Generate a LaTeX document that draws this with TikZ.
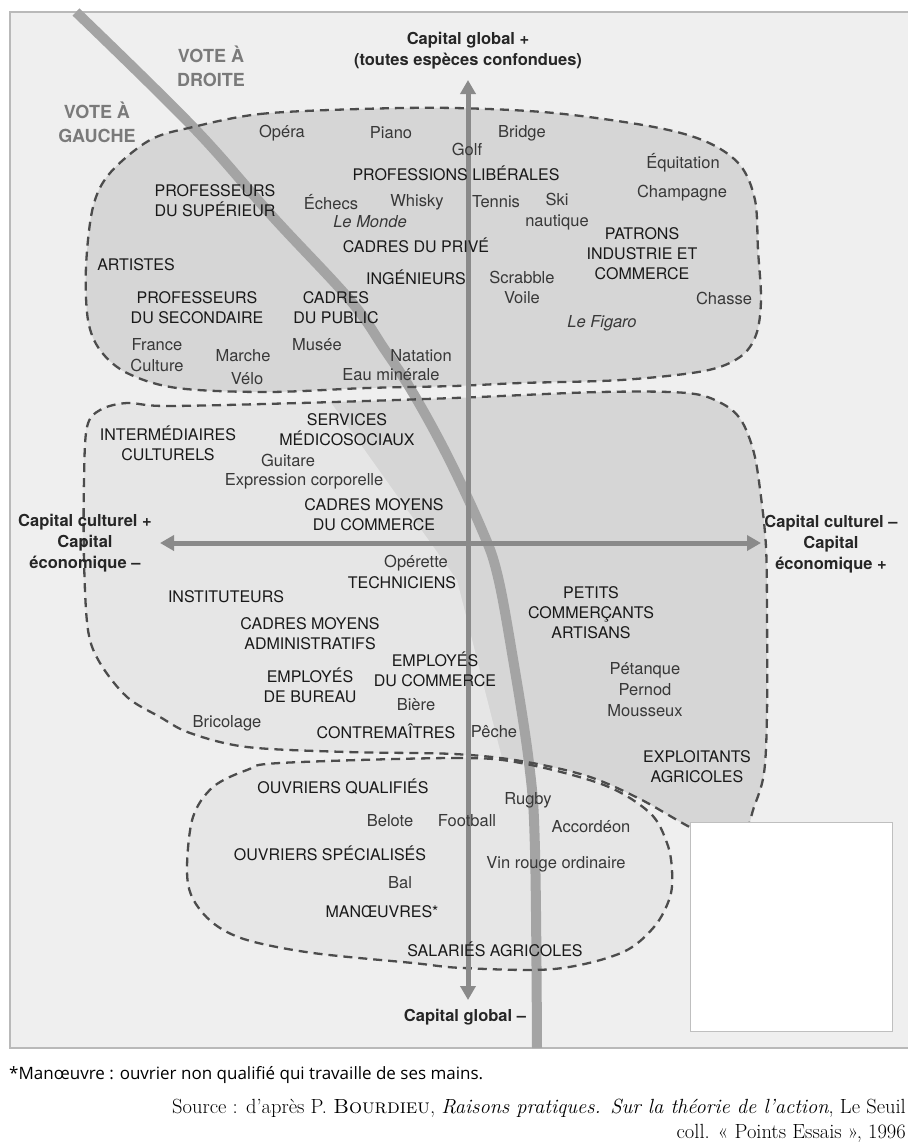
\documentclass[tikz,border=0pt]{standalone}
\usepackage{fontspec}
\newfontfamily\helv{TeX Gyre Heros}
\newfontfamily\notefont{Open Sans}
\usetikzlibrary{arrows.meta}
\definecolor{panelgray}{HTML}{EFEFEF}
\definecolor{blobgray}{HTML}{D6D6D6}
\definecolor{blobpale}{HTML}{E6E6E6}
\definecolor{dashgray}{HTML}{4C4C4C}
\definecolor{axisgray}{HTML}{8A8A8A}
\definecolor{bandgray}{HTML}{A4A4A4}
\definecolor{votegray}{HTML}{7A7A7A}
\tikzset{
	group_label/.style={
		font=\helv\fontsize{16}{20}\selectfont, text=black!90,
		align=center, inner sep=0pt
	},
	practice_label/.style={
		font=\helv\fontsize{16.5}{21}\selectfont, text=black!78,
		align=center, inner sep=0pt
	},
	axis_label/.style={
		font=\helv\bfseries\fontsize{16.5}{21}\selectfont, text=black!85,
		align=center, inner sep=0pt
	},
	vote_label/.style={
		font=\helv\bfseries\fontsize{18}{24}\selectfont, text=votegray,
		align=center, inner sep=0pt
	},
	blob_line/.style={draw=dashgray, line width=2.3pt, dash pattern=on 9pt off 6pt},
	axis_arrow/.style={
		draw=axisgray, line width=5pt,
		{Triangle[width=15pt,length=14pt]}-{Triangle[width=15pt,length=14pt]}
	},
	divide_line/.style={draw=bandgray, line width=10pt}
}
\newcommand\topblob{plot[smooth cycle, tension=0.55] coordinates {(193,127) (260,114) (360,109) (454,108) (554,113) (654,127) (707,142) (740,165) (755,200) (758,250) (761,300) (756,335) (740,357) (704,371) (621,380) (521,383) (454,386) (367,388) (267,392) (177,388) (127,373) (100,350) (88,320) (86,267) (93,207) (110,173) (150,140)}}
\newcommand\midblob{plot[smooth cycle, tension=0.55] coordinates {(127,403) (167,406) (300,403) (454,398) (600,392) (687,393) (721,403) (741,420) (754,453) (761,497) (766,547) (767,613) (767,713) (764,773) (754,807) (740,840) (700,832) (640,799) (587,776) (521,761) (454,754) (347,752) (247,747) (190,733) (160,717) (127,697) (100,663) (88,630) (84,560) (84,480) (87,427) (100,410)}}
\newcommand\lowblob{plot[smooth cycle, tension=0.55] coordinates {(280,763) (454,758) (521,763) (604,785) (650,813) (667,843) (672,870) (670,897) (654,927) (621,953) (554,969) (463,968) (413,963) (313,953) (247,940) (213,923) (192,897) (187,867) (193,817) (213,787) (247,770)}}
\begin{document}
\begin{tikzpicture}[x=1pt,y=-1pt]
	\useasboundingbox (0,0) rectangle (908,1144);
	\fill[white] (0,0) rectangle (908,1144);
	\filldraw[fill=panelgray, draw=gray!55, line width=1.5pt] (10,12) rectangle (920,1048);

	\fill[blobgray] \topblob;
	\fill[blobgray] \midblob;
	\begin{scope}
		\clip \midblob;
		\fill[blobpale] (60,390) -- (322,390) -- (457,580) -- (505,770) -- (60,770) -- cycle;
	\end{scope}
	\fill[blobpale] \lowblob;

	\draw[divide_line] plot[smooth, tension=0.6] coordinates {(76,12) (193,127) (273,217) (350,300) (385,350) (413,393) (448,457) (482,530) (497,573) (511,647) (529,763) (535,850) (537,1048)};

	\path[blob_line] \topblob;
	\path[blob_line] \midblob;
	\path[blob_line] \lowblob;

	\coordinate (gtop) at (468,80);
	\coordinate (gbottom) at (468,1000);
	\coordinate (cleft) at (160,543);
	\coordinate (cright) at (761,543);
	\draw[axis_arrow] (gbottom) -- (gtop);
	\draw[axis_arrow] (cleft) -- (cright);

	\filldraw[fill=white, draw=gray!50, line width=0.8pt] (690,822) rectangle (892,1031);

	\node[axis_label] (globalplus) at (468,51) {Capital global +\\(toutes espèces confondues)};
	\node[vote_label] (droite) at (211,66) {VOTE À\\DROITE};
	\node[vote_label] (gauche) at (97,122) {VOTE À\\GAUCHE};

	\node[practice_label] (opera) at (282,133) {Opéra};
	\node[practice_label] (piano) at (391,133) {Piano};
	\node[practice_label] (bridge) at (522,133) {Bridge};
	\node[practice_label] (golf) at (467,149) {Golf};
	\node[group_label] (liberales) at (456,173) {PROFESSIONS LIBÉRALES};
	\node[practice_label] (equitation) at (683,163) {Équitation};
	\node[practice_label] (champagne) at (682,193) {Champagne};
	\node[group_label] (profsup) at (215,201) {PROFESSEURS\\DU SUPÉRIEUR};
	\node[practice_label] (echecs) at (331,202) {Échecs};
	\node[practice_label] (whisky) at (417,202) {Whisky};
	\node[practice_label] (tennis) at (496,202) {Tennis};
	\node[practice_label] (ski) at (557,212) {Ski\\nautique};
	\node[practice_label] (lemonde) at (370,222) {\itshape Le Monde};
	\node[group_label] (cadresprive) at (416,245) {CADRES DU PRIVÉ};
	\node[group_label] (patrons) at (642,254) {PATRONS\\INDUSTRIE ET\\COMMERCE};
	\node[group_label] (artistes) at (136,265) {ARTISTES};
	\node[group_label] (ingenieurs) at (416,277) {INGÉNIEURS};
	\node[practice_label] (scrabble) at (522,277) {Scrabble};
	\node[practice_label] (voile) at (522,298) {Voile};
	\node[practice_label] (chasse) at (724,298) {Chasse};
	\node[practice_label] (figaro) at (602,323) {\itshape Le Figaro};
	\node[group_label] (profsec) at (197,308) {PROFESSEURS\\DU SECONDAIRE};
	\node[group_label] (cadrespublic) at (336,308) {CADRES\\DU PUBLIC};
	\node[practice_label] (franceculture) at (157,355) {France\\Culture};
	\node[practice_label] (marche) at (243,356) {Marche};
	\node[practice_label] (velo) at (247,379) {Vélo};
	\node[practice_label] (musee) at (317,345) {Musée};
	\node[practice_label] (natation) at (421,356) {Natation};
	\node[practice_label] (eau) at (391,375) {Eau minérale};

	\node[group_label] (services) at (347,430) {SERVICES\\MÉDICOSOCIAUX};
	\node[group_label] (intermediaires) at (168,443) {INTERMÉDIAIRES\\CULTURELS};
	\node[practice_label] (guitare) at (288,460) {Guitare};
	\node[practice_label] (expression) at (304,481) {Expression corporelle};
	\node[group_label] (cmcommerce) at (374,515) {CADRES MOYENS\\DU COMMERCE};
	\node[axis_label] (culturelplus) at (85,543) {Capital culturel +\\Capital\\économique –};
	\node[axis_label] (culturelmoins) at (831,544) {Capital culturel –\\Capital\\économique +};
	\node[practice_label] (operette) at (416,563) {Opérette};
	\node[group_label] (techniciens) at (402,583) {TECHNICIENS};
	\node[group_label] (instituteurs) at (226,597) {INSTITUTEURS};
	\node[group_label] (petits) at (591,613) {PETITS\\COMMERÇANTS\\ARTISANS};
	\node[group_label] (cmadmin) at (310,634) {CADRES MOYENS\\ADMINISTRATIFS};
	\node[group_label] (empcommerce) at (435,669) {EMPLOYÉS\\DU COMMERCE};
	\node[group_label] (empbureau) at (310,685) {EMPLOYÉS\\DE BUREAU};
	\node[practice_label] (biere) at (416,705) {Bière};
	\node[practice_label] (bricolage) at (227,723) {Bricolage};
	\node[group_label] (contremaitres) at (386,731) {CONTREMAÎTRES};
	\node[practice_label] (peche) at (494,732) {Pêche};
	\node[practice_label] (petanque) at (645,690) {Pétanque\\Pernod\\Mousseux};
	\node[group_label] (exploitants) at (697,767) {EXPLOITANTS\\AGRICOLES};

	\node[group_label] (ouvq) at (343,787) {OUVRIERS QUALIFIÉS};
	\node[practice_label] (belote) at (390,821) {Belote};
	\node[practice_label] (football) at (467,821) {Football};
	\node[practice_label] (rugby) at (528,800) {Rugby};
	\node[practice_label] (accordeon) at (591,827) {Accordéon};
	\node[group_label] (ouvs) at (330,853) {OUVRIERS SPÉCIALISÉS};
	\node[practice_label] (vin) at (556,864) {Vin rouge ordinaire};
	\node[practice_label] (bal) at (400,883) {Bal};
	\node[group_label] (manoeuvres) at (382,912) {MANŒUVRES*};
	\node[group_label] (salaries) at (495,949) {SALARIÉS AGRICOLES};
	\node[axis_label] (globalmoins) at (465,1017) {Capital global –};

	\node[anchor=west, inner sep=0pt, font=\notefont\fontsize{17}{20}\selectfont] (note) at (9,1075) {*Manœuvre : ouvrier non qualifié qui travaille de ses mains.};
	\node[anchor=east, inner sep=0pt, font=\fontsize{20.5}{24}\selectfont] (source) at (906,1108) {Source : d'après P. \textsc{Bourdieu}, \textit{Raisons pratiques. Sur la théorie de l'action}, Le Seuil};
	\node[anchor=east, inner sep=0pt, font=\fontsize{20.5}{24}\selectfont] (collection) at (906,1133) {coll. « Points Essais », 1996};
\end{tikzpicture}
\end{document}
